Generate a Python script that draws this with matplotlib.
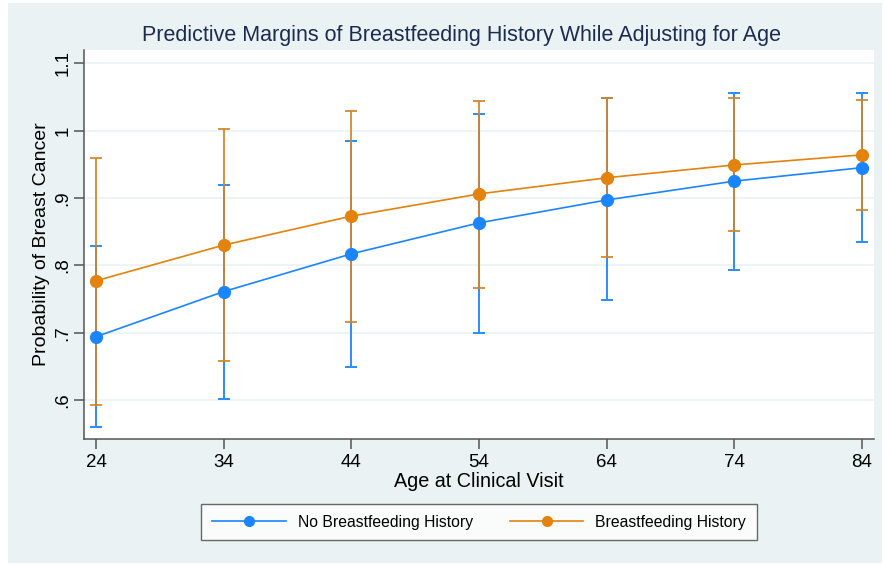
import matplotlib.pyplot as plt
from matplotlib.patches import Rectangle

# Valores
ages = [24, 34, 44, 54, 64, 74, 84]

no_bf = [0.694, 0.761, 0.817, 0.863, 0.897, 0.925, 0.945]
no_bf_lo = [0.560, 0.602, 0.649, 0.700, 0.749, 0.793, 0.835]
no_bf_hi = [0.829, 0.919, 0.985, 1.025, 1.048, 1.056, 1.056]

bf = [0.777, 0.830, 0.873, 0.906, 0.930, 0.949, 0.964]
bf_lo = [0.593, 0.658, 0.716, 0.766, 0.813, 0.851, 0.882]
bf_hi = [0.960, 1.002, 1.029, 1.044, 1.048, 1.048, 1.045]

y_ticks = [0.6, 0.7, 0.8, 0.9, 1.0, 1.1]
y_tick_labels = ['.6', '.7', '.8', '.9', '1', '1.1']

BLUE = '#1a85ff'
ORANGE = '#e3820c'
BG = '#eaf2f3'

plt.rcParams['font.family'] = ['Liberation Sans', 'DejaVu Sans']

fig = plt.figure(figsize=(8.84, 5.64), dpi=100)
W, H = 884, 564
# fondo gris-azulado tipo Stata
fig.patches.append(Rectangle((8 / W, 1 / H), 874 / W, 560 / H,
                             transform=fig.transFigure, facecolor=BG,
                             edgecolor='none', zorder=-10))

ax = fig.add_axes([84 / W, 1 - 439 / H, 790 / W, 389 / H])
ax.set_facecolor('white')

# intervalos de confianza
ax.errorbar(ages, no_bf,
            yerr=[[m - l for m, l in zip(no_bf, no_bf_lo)],
                  [h - m for m, h in zip(no_bf, no_bf_hi)]],
            fmt='none', ecolor='#2a8cff', elinewidth=1.4, capsize=4,
            capthick=1.4, zorder=2)
ax.errorbar(ages, bf,
            yerr=[[m - l for m, l in zip(bf, bf_lo)],
                  [h - m for m, h in zip(bf, bf_hi)]],
            fmt='none', ecolor='#d5842a', elinewidth=1.4, capsize=4,
            capthick=1.4, alpha=0.9, zorder=3)

# márgenes predictivos
ax.plot(ages, no_bf, color=BLUE, marker='o', markersize=8.5, lw=1.2,
        label='No Breastfeeding History', zorder=4)
ax.plot(ages, bf, color=ORANGE, marker='o', markersize=8.5, lw=1.2,
        label='Breastfeeding History', zorder=5)

ax.set_xlim(23.06, 84.94)
ax.set_ylim(0.5421, 1.1197)
ax.set_xticks(ages)
ax.set_yticks(y_ticks)
ax.set_yticklabels(y_tick_labels, rotation=90, va='center')
ax.grid(axis='y', color=BG, lw=1.2)
ax.set_axisbelow(True)

for s in ['top', 'right']:
    ax.spines[s].set_visible(False)
for s in ['left', 'bottom']:
    ax.spines[s].set_color('#555555')
    ax.spines[s].set_linewidth(1.1)
ax.tick_params(colors='#555555', labelcolor='black', labelsize=13.5,
               length=7, width=1.1)
ax.tick_params(axis='y', pad=2)

ax.set_xlabel('Age at Clinical Visit', fontsize=14.2, labelpad=1)
ax.set_ylabel('Probability of Breast Cancer', fontsize=14, labelpad=3)
fig.text(462 / W, 1 - 35 / H,
         'Predictive Margins of Breastfeeding History While Adjusting for Age',
         ha='center', va='center', fontsize=15.5, color='#1c2b52')

leg = fig.legend(loc='center', bbox_to_anchor=(479 / W, 1 - 522 / H),
                 ncol=2, fontsize=11.3, frameon=True, fancybox=False,
                 handlelength=4.7, columnspacing=2.35, borderpad=0.7,
                 handletextpad=0.76, borderaxespad=0)
leg.get_frame().set_edgecolor('#444444')
leg.get_frame().set_linewidth(1.0)
for h in leg.legend_handles:
    h.set_markersize(7)

fig.savefig('out.png', dpi=100, facecolor='white')
